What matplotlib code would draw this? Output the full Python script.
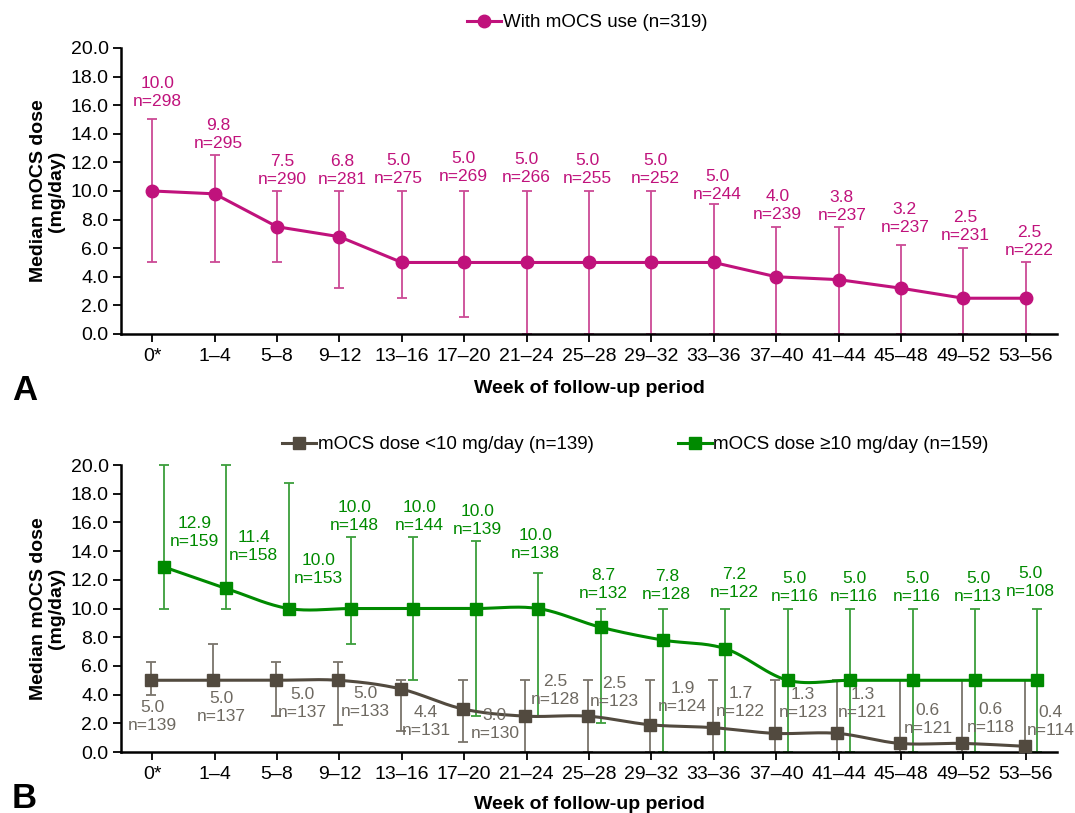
import numpy as np
import matplotlib
matplotlib.use("Agg")
import matplotlib.pyplot as plt
from matplotlib.lines import Line2D

plt.rcParams['font.family'] = ['Liberation Sans', 'DejaVu Sans']

# ---------------- data ----------------
weeks = ["0*", "1–4", "5–8", "9–12", "13–16", "17–20", "21–24", "25–28",
         "29–32", "33–36", "37–40", "41–44", "45–48", "49–52", "53–56"]

# panel A: with mOCS use
a_med = [10.0, 9.8, 7.5, 6.8, 5.0, 5.0, 5.0, 5.0, 5.0, 5.0, 4.0, 3.8, 3.2, 2.5, 2.5]
a_lo = [5.0, 5.0, 5.0, 3.2, 2.5, 1.2, 0, 0, 0, 0, 0, 0, 0, 0, 0]
a_hi = [15.0, 12.5, 10.0, 10.0, 10.0, 10.0, 10.0, 10.0, 10.0, 9.1, 7.5, 7.5, 6.25, 6.0, 5.0]
a_n = [298, 295, 290, 281, 275, 269, 266, 255, 252, 244, 239, 237, 237, 231, 222]

# panel B: dose <10 mg/day
lo_med = [5.0, 5.0, 5.0, 5.0, 4.4, 3.0, 2.5, 2.5, 1.9, 1.7, 1.3, 1.3, 0.6, 0.6, 0.4]
lo_lo = [4.0, 5.0, 2.5, 1.9, 1.5, 0.7, 0, 0, 0, 0, 0, 0, 0, 0, 0]
lo_hi = [6.25, 7.5, 6.25, 6.25, 5.0, 5.0, 5.0, 5.0, 5.0, 5.0, 5.0, 5.0, 5.0, 5.0, 5.0]
lo_n = [139, 137, 137, 133, 131, 130, 128, 123, 124, 122, 123, 121, 121, 118, 114]

# panel B: dose >=10 mg/day
hi_med = [12.9, 11.4, 10.0, 10.0, 10.0, 10.0, 10.0, 8.7, 7.8, 7.2, 5.0, 5.0, 5.0, 5.0, 5.0]
hi_lo = [10.0, 10.0, 10.0, 7.5, 5.0, 2.5, 2.5, 2.0, 0, 0, 0, 0, 0, 0, 0]
hi_hi = [20.0, 20.0, 18.75, 15.0, 15.0, 14.7, 12.5, 10.0, 10.0, 10.0, 10.0, 10.0, 10.0, 10.0, 10.0]
hi_n = [159, 158, 153, 148, 144, 139, 138, 132, 128, 122, 116, 116, 116, 113, 108]

# label placement (x offset in categories, y centre in mg/day)
a_lab_dx = [0.08, 0.06, 0.08, 0.05, -0.06, -0.02, 0, -0.02, 0.06, 0.06, 0.02, 0.05, 0.06, 0.03, 0.06]
a_lab_y = [16.9, 13.95, 11.43, 11.45, 11.49, 11.66, 11.54, 11.5, 11.5, 10.4, 8.97, 8.93, 8.05, 7.54, 6.45]
lo_lab_dx = [0.0, 0.11, 0.41, 0.41, 0.39, 0.49, 0.46, 0.4, 0.5, 0.43, 0.43, 0.38, 0.43, 0.44, 0.4]
lo_lab_y = [2.51, 3.07, 3.38, 3.48, 2.16, 1.9, 4.26, 4.15, 3.8, 3.45, 3.38, 3.38, 2.29, 2.37, 2.1]
hi_lab_dx = [0.49, 0.44, 0.48, 0.06, 0.1, 0.03, -0.05, 0.04, 0.06, 0.14, 0.11, 0.06, 0.07, 0.05, -0.11]
hi_lab_y = [15.33, 14.34, 12.72, 16.43, 16.43, 16.1, 14.43, 11.67, 11.6, 11.72, 11.44, 11.44, 11.44, 11.44, 11.8]

MAG = "#C0127C"
MAG_E = "#CC4A95"
GRN = "#008A00"
GRN_E = "#3C9E3C"
GRY = "#524A3F"
GRY_E = "#7A746B"
GRY_T = "#6E6961"

LAB_FS = 12.5
TICK_FS = 14


def smooth(xs, ys, n=30):
    # bezier curve through the points (spreadsheet style smoothed line)
    pts = np.column_stack([xs, ys]).astype(float)
    out = []
    for i in range(len(pts) - 1):
        p0 = pts[max(i - 1, 0)]
        p1 = pts[i]
        p2 = pts[i + 1]
        p3 = pts[min(i + 2, len(pts) - 1)]
        c1 = p1 + (p2 - p0) / 6
        c2 = p2 - (p3 - p1) / 6
        t = np.linspace(0, 1, n)[:, None]
        seg = (1 - t) ** 3 * p1 + 3 * (1 - t) ** 2 * t * c1 + 3 * (1 - t) * t ** 2 * c2 + t ** 3 * p2
        out.append(seg if i == 0 else seg[1:])
    return np.vstack(out)


def draw_err(ax, x, med, lo, hi, color):
    med = np.array(med)
    yerr = [med - np.array(lo), np.array(hi) - med]
    eb = ax.errorbar(x, med, yerr=yerr, fmt="none", ecolor=color, elinewidth=1.3,
                     capsize=3.5, capthick=1.3, zorder=2)
    for art in list(eb.lines[1]) + list(eb.lines[2]):
        art.set_clip_on(False)


def style_axes(ax):
    ax.set_xlim(-0.5, 14.5)
    ax.set_ylim(0, 20)
    ax.set_yticks(np.arange(0, 20.1, 2))
    ax.set_yticklabels([f"{v:.1f}" for v in np.arange(0, 20.1, 2)])
    ax.set_xticks(range(len(weeks)))
    ax.set_xticklabels(weeks)
    for s in ["top", "right"]:
        ax.spines[s].set_visible(False)
    for s in ["left", "bottom"]:
        ax.spines[s].set_linewidth(1.8)
    ax.tick_params(axis="both", labelsize=TICK_FS, width=1.3, length=6, direction="out")
    ax.tick_params(axis="x", pad=4)
    ax.tick_params(axis="y", pad=3)
    ax.set_ylabel("Median mOCS dose\n(mg/day)", fontsize=14, fontweight="bold", linespacing=1.05)
    ax.set_xlabel("Week of follow-up period", fontsize=14, fontweight="bold")
    ax.yaxis.set_label_coords(-0.06, 0.5)


fig = plt.figure(figsize=(10.75, 8.13), dpi=100)
axA = fig.add_axes([0.1126, 0.5892, 0.8707, 0.3518])
axB = fig.add_axes([0.1126, 0.075, 0.8707, 0.353])

# ---------------- panel A ----------------
xa = np.arange(len(weeks))
draw_err(axA, xa, a_med, a_lo, a_hi, MAG_E)
axA.plot(xa, a_med, color=MAG, lw=2.2, marker="o", ms=9, zorder=3, clip_on=False)
for i in range(len(weeks)):
    axA.text(xa[i] + a_lab_dx[i], a_lab_y[i], f"{a_med[i]:.1f}\nn={a_n[i]}", ha="center",
             va="center", color=MAG, fontsize=LAB_FS, linespacing=1.25)
style_axes(axA)
axA.xaxis.set_label_coords(0.5, -0.16)
hA = [Line2D([], [], color=MAG, lw=2.2, marker="o", ms=9)]
fig.legend(hA, ["With mOCS use (n=319)"], loc="center", bbox_to_anchor=(0.5465, 0.972),
           frameon=False, fontsize=13.5, handlelength=1.8, handletextpad=0.1)
fig.text(0.011, 1 - 400 / 813, "A", fontsize=25, fontweight="bold", va="baseline")

# ---------------- panel B ----------------
xg = xa - 0.02
xh = xa + 0.185
draw_err(axB, xg, lo_med, lo_lo, lo_hi, GRY_E)
draw_err(axB, xh, hi_med, hi_lo, hi_hi, GRN_E)
sg = smooth(xg, lo_med)
axB.plot(sg[:, 0], sg[:, 1], color=GRY, lw=2.2, zorder=3)
axB.plot(xg, lo_med, ls="none", marker="s", ms=8.8, color=GRY, zorder=4, clip_on=False)
sh = smooth(xh, hi_med)
axB.plot(sh[:, 0], sh[:, 1], color=GRN, lw=2.2, zorder=3)
axB.plot(xh, hi_med, ls="none", marker="s", ms=8.8, color=GRN, zorder=4, clip_on=False)
for i in range(len(weeks)):
    axB.text(xa[i] + lo_lab_dx[i], lo_lab_y[i], f"{lo_med[i]:.1f}\nn={lo_n[i]}", ha="center",
             va="center", color=GRY_T, fontsize=LAB_FS, linespacing=1.25, zorder=5)
    axB.text(xh[i] + hi_lab_dx[i], hi_lab_y[i], f"{hi_med[i]:.1f}\nn={hi_n[i]}", ha="center",
             va="center", color=GRN, fontsize=LAB_FS, linespacing=1.25, zorder=5)
style_axes(axB)
axB.xaxis.set_label_coords(0.5, -0.153)
hB = [Line2D([], [], color=GRY, lw=2.2, marker="s", ms=8.8),
      Line2D([], [], color=GRN, lw=2.2, marker="s", ms=8.8)]
fig.legend(hB, ["mOCS dose <10 mg/day (n=139)", "mOCS dose ≥10 mg/day (n=159)"], loc="center",
           bbox_to_anchor=(0.591, 0.453), ncol=2, frameon=False, fontsize=13.5,
           handlelength=1.8, handletextpad=0.1, columnspacing=4.5)
fig.text(0.011, 1 - 808 / 813, "B", fontsize=25, fontweight="bold", va="baseline")

fig.savefig("out.png", dpi=100)
